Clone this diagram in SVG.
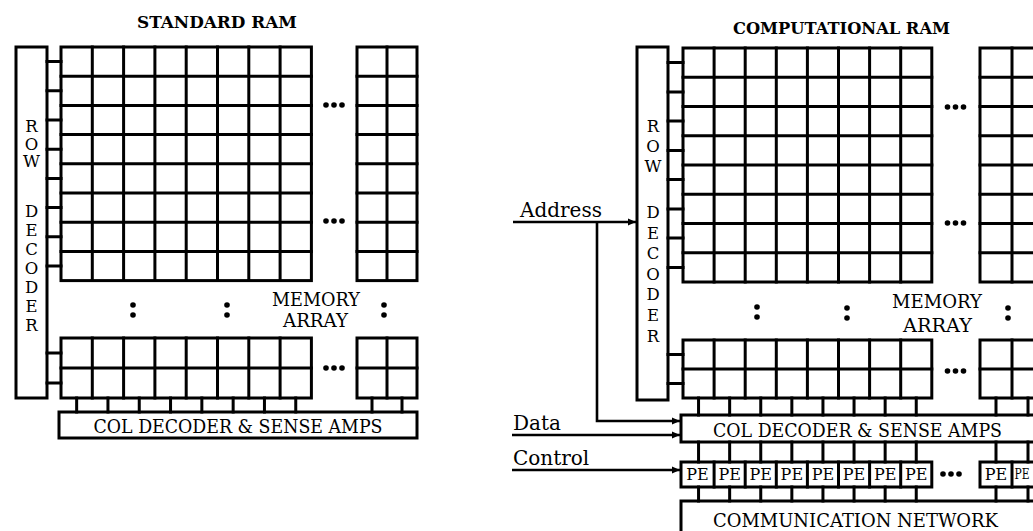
<svg xmlns="http://www.w3.org/2000/svg" width="1033" height="531" viewBox="0 0 1033 531">
<defs>
<style>
.ln{stroke:#000;stroke-width:3;fill:none;stroke-linecap:square}
.bx{stroke:#000;stroke-width:3;fill:#fff}
.t{font-family:"DejaVu Serif","Liberation Serif",serif;fill:#000}
.ttl{font-family:"DejaVu Serif","Liberation Serif",serif;font-weight:bold;font-size:17.5px;fill:#000}
.lt{font-size:16.5px;text-anchor:middle}
.bt{font-size:17.6px;text-anchor:middle}
.pe{font-size:16px;text-anchor:middle}
.lab{font-size:20px}
.d{fill:#000}
</style>
<marker id="ah" markerUnits="userSpaceOnUse" markerWidth="9" markerHeight="8" refX="8" refY="4" orient="auto">
<path d="M0,0.5 L8,4 L0,7.5 Z" fill="#000"/>
</marker>
<g id="dots3"><circle cx="-8" cy="0" r="2.8"/><circle cx="0" cy="0" r="2.8"/><circle cx="8" cy="0" r="2.8"/></g>
<g id="colon"><circle cx="0" cy="-5" r="2.8"/><circle cx="0" cy="5" r="2.8"/></g>
</defs>
<rect width="1033" height="531" fill="#fff"/>

<!-- ===== STANDARD RAM ===== -->
<text class="ttl" x="217" y="28" text-anchor="middle" textLength="160" lengthAdjust="spacingAndGlyphs">STANDARD RAM</text>

<g id="std-row-decoder">
<rect class="bx" x="16" y="47" width="31" height="351"/>
<g class="t lt">
<text x="31.5" y="132">R</text><text x="31.5" y="149.5">O</text><text x="31.5" y="167">W</text>
<text x="31.5" y="217">D</text><text x="31.5" y="236">E</text><text x="31.5" y="255">C</text><text x="31.5" y="274">O</text><text x="31.5" y="293">D</text><text x="31.5" y="312">E</text><text x="31.5" y="331">R</text>
</g>
</g>

<g id="std-memory-array">
<rect class="ln" x="61" y="47" width="250.4" height="233.6"/>
<rect class="ln" x="357" y="47" width="60" height="233.6"/>
<path class="ln" d="M92.3 47V280.6M123.6 47V280.6M154.9 47V280.6M186.2 47V280.6M217.5 47V280.6M248.8 47V280.6M280.1 47V280.6M387 47V280.6
M61 76.2H311.4M61 105.4H311.4M61 134.6H311.4M61 163.8H311.4M61 193H311.4M61 222.2H311.4M61 251.4H311.4
M357 76.2H417M357 105.4H417M357 134.6H417M357 163.8H417M357 193H417M357 222.2H417M357 251.4H417"/>
<rect class="ln" x="61" y="338" width="250.4" height="60"/>
<rect class="ln" x="357" y="338" width="60" height="60"/>
<path class="ln" d="M61 368H311.4M357 368H417M92.3 338V398M123.6 338V398M154.9 338V398M186.2 338V398M217.5 338V398M248.8 338V398M280.1 338V398M387 338V398"/>
<g class="d">
<use href="#dots3" x="334" y="105"/><use href="#dots3" x="334" y="221"/><use href="#dots3" x="334" y="368"/>
<use href="#colon" x="133" y="310"/><use href="#colon" x="227" y="310"/><use href="#colon" x="384" y="310"/>
</g>
<text class="t bt" x="316" y="306" font-size="17.8" textLength="88" lengthAdjust="spacingAndGlyphs">MEMORY</text>
<text class="t bt" x="315.5" y="327" font-size="17.8" textLength="65" lengthAdjust="spacingAndGlyphs">ARRAY</text>
</g>

<g id="std-col-decoder">
<rect class="bx" x="59" y="412" width="358" height="26"/>
<text class="t bt" x="238" y="433" textLength="289" lengthAdjust="spacingAndGlyphs">COL DECODER &amp; SENSE AMPS</text>
</g>

<!-- ===== COMPUTATIONAL RAM ===== -->
<text class="ttl" x="841.5" y="34" text-anchor="middle" textLength="217" lengthAdjust="spacingAndGlyphs">COMPUTATIONAL RAM</text>

<g id="cram-row-decoder">
<rect class="bx" x="637" y="47" width="31" height="353"/>
<g class="t lt">
<text x="653" y="132">R</text><text x="653" y="152">O</text><text x="653" y="172">W</text>
<text x="653" y="218">D</text><text x="653" y="239">E</text><text x="653" y="259">C</text><text x="653" y="280">O</text><text x="653" y="300">D</text><text x="653" y="321">E</text><text x="653" y="342">R</text>
</g>
</g>

<g id="cram-memory-array">
<rect class="ln" x="683" y="48" width="248.8" height="234"/>
<rect class="ln" x="980" y="48" width="64" height="234"/>
<path class="ln" d="M714.1 48V282M745.2 48V282M776.3 48V282M807.4 48V282M838.5 48V282M869.6 48V282M900.7 48V282M1012 48V282
M683 77.25H931.8M683 106.5H931.8M683 135.75H931.8M683 165H931.8M683 194.25H931.8M683 223.5H931.8M683 252.75H931.8
M980 77.25H1044M980 106.5H1044M980 135.75H1044M980 165H1044M980 194.25H1044M980 223.5H1044M980 252.75H1044"/>
<rect class="ln" x="683" y="340" width="248.8" height="58"/>
<rect class="ln" x="980" y="340" width="64" height="58"/>
<path class="ln" d="M683 369H931.8M980 369H1044M714.1 340V398M745.2 340V398M776.3 340V398M807.4 340V398M838.5 340V398M869.6 340V398M900.7 340V398M1012 340V398"/>
<g class="d">
<use href="#dots3" x="955.5" y="107"/><use href="#dots3" x="955.5" y="223"/><use href="#dots3" x="955.5" y="371"/>
<use href="#colon" x="757" y="312"/><use href="#colon" x="847" y="313"/><use href="#colon" x="1008" y="313"/>
</g>
<text class="t bt" x="937" y="308" font-size="17.8" textLength="90" lengthAdjust="spacingAndGlyphs">MEMORY</text>
<text class="t bt" x="937.5" y="332" font-size="17.8" textLength="69" lengthAdjust="spacingAndGlyphs">ARRAY</text>
</g>

<g id="cram-col-decoder">
<rect class="bx" x="681" y="415" width="370" height="27"/>
<text class="t bt" x="857.5" y="437" textLength="289" lengthAdjust="spacingAndGlyphs">COL DECODER &amp; SENSE AMPS</text>
</g>

<g id="cram-pe-array">
<rect class="ln" x="681" y="462" width="250.8" height="25"/>
<rect class="ln" x="980" y="462" width="64" height="25"/>
<path class="ln" d="M714.1 462V487M745.2 462V487M776.3 462V487M807.4 462V487M838.5 462V487M869.6 462V487M900.7 462V487M1012 462V487"/>
<g class="t pe">
<text x="697.5" y="480">PE</text><text x="729.65" y="480">PE</text><text x="760.75" y="480">PE</text><text x="791.85" y="480">PE</text><text x="822.95" y="480">PE</text><text x="854.05" y="480">PE</text><text x="885.15" y="480">PE</text><text x="916.25" y="480">PE</text>
<text x="996" y="480">PE</text><text x="1022" y="479" font-size="14" textLength="15" lengthAdjust="spacingAndGlyphs">PE</text>
</g>
<g class="d"><use href="#dots3" x="951" y="474"/></g>
</g>

<g id="cram-comm-network">
<rect class="bx" x="681" y="501" width="370" height="36"/>
<text class="t bt" x="855.5" y="527" textLength="285" lengthAdjust="spacingAndGlyphs">COMMUNICATION NETWORK</text>
</g>

<!-- ===== connectors ===== -->
<g id="connectors">
<g id="wiring" class="ln">
<path d="M47 61.6H61M47 90.8H61M47 120H61M47 149.2H61M47 178.4H61M47 207.6H61M47 236.8H61M47 266H61M47 353H61M47 383H61"/>
<path d="M76.65 398V412M107.95 398V412M139.25 398V412M170.55 398V412M201.85 398V412M233.15 398V412M264.45 398V412M295.75 398V412M372 398V412M402 398V412"/>
<path d="M668 62.6H683M668 91.9H683M668 121.1H683M668 150.4H683M668 179.6H683M668 208.9H683M668 238.1H683M668 267.4H683M668 354.5H683M668 383.5H683"/>
<path d="M698.55 398V415M729.65 398V415M760.75 398V415M791.85 398V415M822.95 398V415M854.05 398V415M885.15 398V415M916.25 398V415M996 398V415M1028 398V415"/>
<path d="M698.55 442V462M729.65 442V462M760.75 442V462M791.85 442V462M822.95 442V462M854.05 442V462M885.15 442V462M916.25 442V462M996 442V462M1028 442V462"/>
<path d="M698.55 487V501M729.65 487V501M760.75 487V501M791.85 487V501M822.95 487V501M854.05 487V501M885.15 487V501M916.25 487V501M996 487V501M1028 487V501"/>
</g>
<g id="address" class="ln" style="stroke-width:2.6;stroke-linecap:butt">
<path d="M513 222H636" marker-end="url(#ah)"/>
<path d="M597 222V421H680" marker-end="url(#ah)"/>
</g>
<path id="data" class="ln" style="stroke-width:2.6;stroke-linecap:butt" d="M512 435H680" marker-end="url(#ah)"/>
<path id="control" class="ln" style="stroke-width:2.6;stroke-linecap:butt" d="M512 470H680" marker-end="url(#ah)"/>
<text class="t lab" x="520" y="217">Address</text>
<text class="t lab" x="513" y="430">Data</text>
<text class="t lab" x="513" y="465">Control</text>
</g>
</svg>
